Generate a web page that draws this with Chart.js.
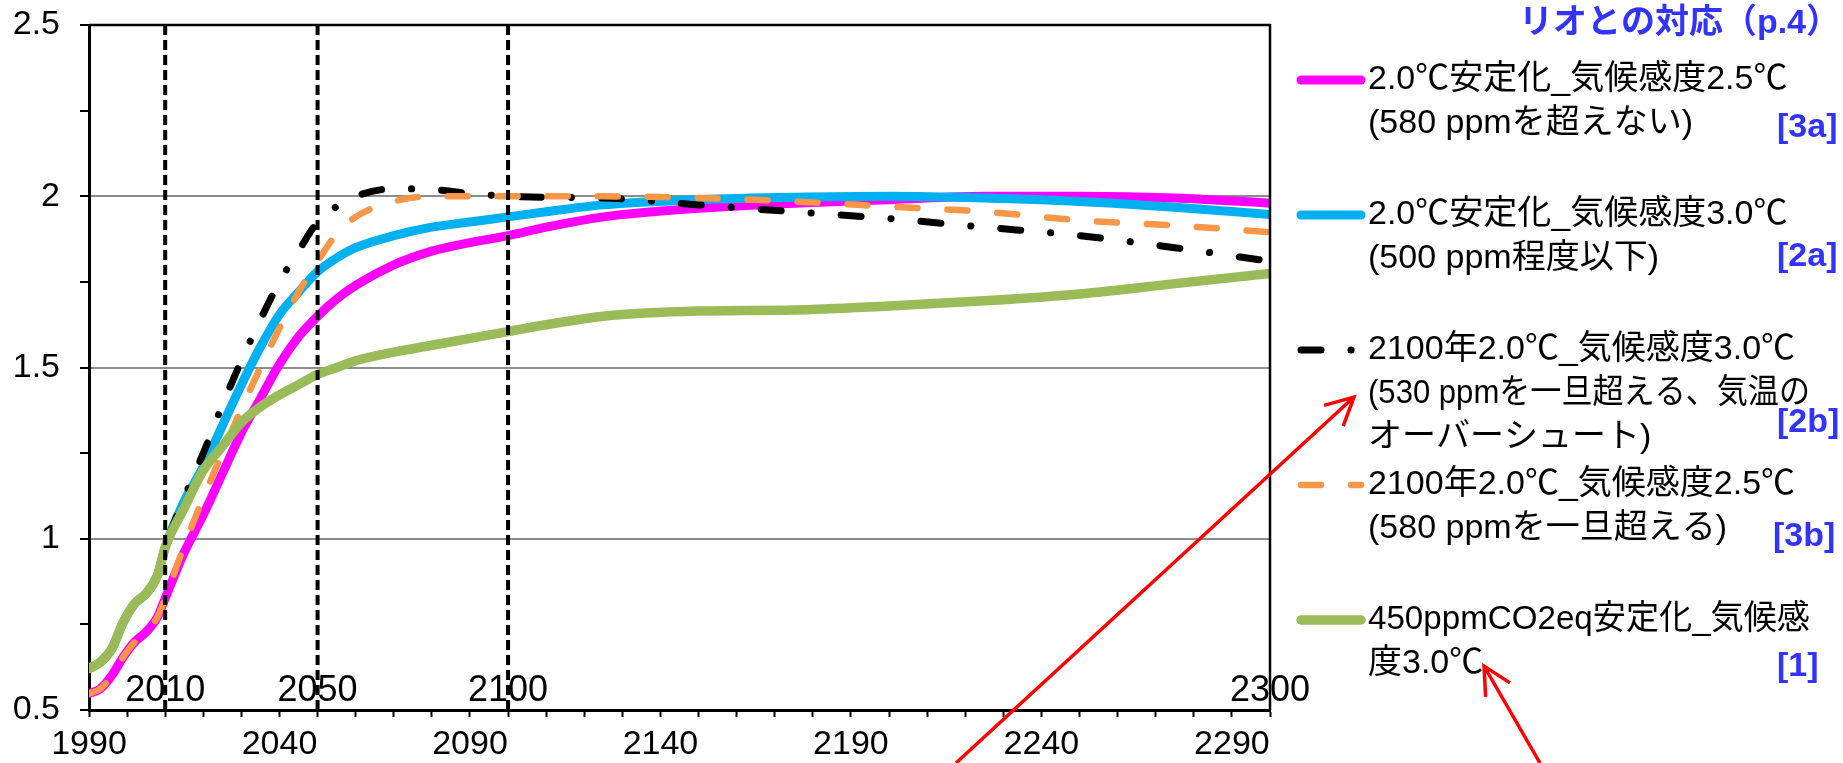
<!DOCTYPE html>
<html>
<head>
<meta charset="utf-8">
<title>気温上昇シナリオ</title>
<script src="https://cdn.jsdelivr.net/npm/chart.js@4.4.1/dist/chart.umd.min.js"></script>
<style>
  html, body { margin: 0; padding: 0; background: #fff; }
  #wrap { position: relative; width: 1843px; height: 763px; }
</style>
</head>
<body>
<div id="wrap"><canvas id="tempChart"></canvas></div>
<script>
// years of the sampled points
var years = [1990, 1993, 1996, 1999, 2002, 2005, 2008, 2010, 2015, 2020, 2025, 2030, 2035, 2040, 2045,
  2050, 2055, 2060, 2070, 2080, 2090, 2100, 2110, 2125, 2150, 2175, 2200, 2225, 2250, 2275, 2300];

// temperature rise (℃) per scenario
var stab20cs25 = [0.548, 0.562, 0.601, 0.655, 0.699, 0.728, 0.772, 0.826, 0.96, 1.07, 1.19, 1.31, 1.41, 1.51, 1.59,
  1.65, 1.70, 1.74, 1.80, 1.84, 1.865, 1.885, 1.91, 1.94, 1.965, 1.98, 1.99, 2.0, 2.0, 1.995, 1.98];
var stab20cs30 = [0.621, 0.640, 0.679, 0.757, 0.811, 0.840, 0.894, 0.975, 1.11, 1.21, 1.33, 1.45, 1.56, 1.655, 1.72,
  1.78, 1.82, 1.85, 1.885, 1.91, 1.925, 1.94, 1.955, 1.975, 1.99, 1.997, 2.0, 1.995, 1.985, 1.968, 1.947];
var y2100cs30 = [0.621, 0.640, 0.679, 0.757, 0.811, 0.840, 0.894, 0.975, 1.12, 1.25, 1.39, 1.52, 1.64, 1.75, 1.84,
  1.925, 1.97, 2.0, 2.022, 2.02, 2.008, 2.0, 1.997, 1.995, 1.975, 1.955, 1.935, 1.91, 1.885, 1.85, 1.81];
var y2100cs25 = [0.548, 0.562, 0.601, 0.655, 0.699, 0.728, 0.772, 0.826, 0.98, 1.12, 1.25, 1.38, 1.50, 1.615, 1.72,
  1.81, 1.89, 1.94, 1.985, 2.0, 2.0, 2.0, 2.0, 2.0, 1.995, 1.985, 1.97, 1.955, 1.93, 1.915, 1.895];
var ppm450cs30 = [0.621, 0.640, 0.679, 0.757, 0.811, 0.840, 0.894, 0.975, 1.09, 1.20, 1.27, 1.34, 1.385, 1.42, 1.45,
  1.48, 1.50, 1.52, 1.545, 1.565, 1.585, 1.605, 1.625, 1.65, 1.665, 1.668, 1.68, 1.695, 1.715, 1.745, 1.775];

var seriesLabels = [
  ['2.0℃安定化_気候感度2.5℃', '(580 ppmを超えない)'],
  ['2.0℃安定化_気候感度3.0℃', '(500 ppm程度以下)'],
  ['2100年2.0℃_気候感度3.0℃', '(530 ppmを一旦超える、気温の', 'オーバーシュート)'],
  ['2100年2.0℃_気候感度2.5℃', '(580 ppmを一旦超える)'],
  ['450ppmCO2eq安定化_気候感', '度3.0℃']
];
var seriesTags = ['[3a]', '[2a]', '[2b]', '[3b]', '[1]'];
var legendTitle = 'リオとの対応（p.4）';

// vertical reference years and their labels
var markerYears = [2010, 2050, 2100];
var markerLabels = [2010, 2050, 2100, 2300];

var FONT = '"Liberation Sans", Arial, "Noto Sans CJK JP", sans-serif';
Chart.defaults.font.family = FONT;
Chart.defaults.color = '#000';

function pts(vals) {
  return years.map(function (yr, i) { return { x: yr, y: vals[i] }; });
}

var datasets = [
  { label: seriesLabels[0].join(''), data: pts(stab20cs25), borderColor: '#FF00FF', borderWidth: 9, order: 5 },
  { label: seriesLabels[1].join(''), data: pts(stab20cs30), borderColor: '#00B0F0', borderWidth: 9, order: 4 },
  { label: seriesLabels[2].join(''), data: pts(y2100cs30), borderColor: '#000000', borderWidth: 7,
    borderDash: [20, 30, 0.1, 30], order: 3 },
  { label: seriesLabels[3].join(''), data: pts(y2100cs25), borderColor: '#F79646', borderWidth: 6.5,
    borderDash: [20, 30], order: 2 },
  { label: seriesLabels[4].join(''), data: pts(ppm450cs30), borderColor: '#9BBB59', borderWidth: 9.5, order: 1 }
];
markerYears.forEach(function (yr) {
  datasets.push({
    label: 'marker' + yr, data: [{ x: yr, y: 0.5 }, { x: yr, y: 2.5 }],
    borderColor: '#000', borderWidth: 4, borderDash: [10, 5], borderCapStyle: 'butt',
    cubicInterpolationMode: 'default', tension: 0, order: 0
  });
});

var decorations = {
  id: 'decorations',
  afterDraw: function (chart) {
    var ctx = chart.ctx, a = chart.chartArea;
    var xs = chart.scales.x, ys = chart.scales.y;
    ctx.save();

    // frame top and right
    ctx.strokeStyle = '#000';
    ctx.lineWidth = 2.5;
    ctx.beginPath();
    ctx.moveTo(a.left, a.top);
    ctx.lineTo(a.right, a.top);
    ctx.lineTo(a.right, a.bottom);
    ctx.stroke();

    // year labels at the reference lines
    ctx.fillStyle = '#000';
    ctx.font = '36px ' + FONT;
    ctx.textAlign = 'center';
    ctx.textBaseline = 'middle';
    markerLabels.forEach(function (yr) {
      ctx.fillText(String(yr), xs.getPixelForValue(yr), ys.getPixelForValue(0.5) - 19);
    });

    // legend
    var firstY = 80, stepY = 135, lineH = 44;
    var tagY = [128, 257, 423, 537, 667];
    for (var i = 0; i < seriesLabels.length; i++) {
      var ds = chart.data.datasets[i];
      var y0 = firstY + i * stepY;
      ctx.save();
      ctx.strokeStyle = ds.borderColor;
      ctx.lineWidth = ds.borderWidth;
      ctx.lineCap = 'round';
      ctx.setLineDash(ds.borderDash || []);
      ctx.beginPath();
      ctx.moveTo(1301, y0);
      ctx.lineTo(1361, y0);
      ctx.stroke();
      ctx.restore();

      ctx.font = '34px ' + FONT;
      ctx.textAlign = 'left';
      ctx.fillStyle = '#000';
      seriesLabels[i].forEach(function (t, k) {
        ctx.fillText(t, 1368, y0 + k * lineH, 442);
      });
      ctx.font = 'bold 34px ' + FONT;
      ctx.fillStyle = '#3333FF';
      ctx.fillText(seriesTags[i], i === 3 ? 1773 : 1777, tagY[i]);
    }
    ctx.font = 'bold 34px ' + FONT;
    ctx.fillStyle = '#3333FF';
    ctx.textAlign = 'right';
    ctx.fillText(legendTitle, 1840, 24);

    // red arrows pointing into the legend
    function arrow(x0, y0, x1, y1) {
      var ang = Math.atan2(y0 - y1, x0 - x1), len = 31, spread = 27 * Math.PI / 180;
      ctx.beginPath();
      ctx.moveTo(x0, y0);
      ctx.lineTo(x1, y1);
      ctx.moveTo(x1 + len * Math.cos(ang + spread), y1 + len * Math.sin(ang + spread));
      ctx.lineTo(x1, y1);
      ctx.lineTo(x1 + len * Math.cos(ang - spread), y1 + len * Math.sin(ang - spread));
      ctx.stroke();
    }
    ctx.strokeStyle = '#FF0000';
    ctx.lineWidth = 3.5;
    ctx.lineCap = 'butt';
    arrow(956, 763, 1354, 397);
    arrow(1540, 763, 1484, 666);

    ctx.restore();
  }
};

new Chart(document.getElementById('tempChart'), {
  type: 'line',
  data: { datasets: datasets },
  options: {
    responsive: true,
    maintainAspectRatio: false,
    animation: false,
    layout: { padding: { top: 19, right: 573, left: 0, bottom: 0 } },
    elements: {
      point: { radius: 0, hoverRadius: 0 },
      line: { cubicInterpolationMode: 'monotone', borderCapStyle: 'round', borderJoinStyle: 'round', fill: false }
    },
    plugins: { legend: { display: false }, tooltip: { enabled: false } },
    scales: {
      x: {
        type: 'linear', min: 1990, max: 2300,
        afterFit: function (s) { s.height = 53; },
        border: { color: '#000', width: 3 },
        grid: { drawOnChartArea: false, tickLength: 7, tickColor: '#000', tickWidth: 2 },
        ticks: {
          stepSize: 10, autoSkip: false, maxRotation: 0, padding: 7, color: '#000', font: { size: 34 },
          callback: function (v) { return (v - 1990) % 50 === 0 ? String(v) : ''; }
        }
      },
      y: {
        min: 0.5, max: 2.5,
        afterFit: function (s) { s.width = 89; },
        border: { color: '#000', width: 3 },
        grid: {
          color: function (c) {
            return c.tick && Math.round(c.tick.value * 100) % 50 === 0 ? '#8C8C8C' : 'rgba(0,0,0,0)';
          },
          lineWidth: 2, tickLength: 9, tickColor: '#000', tickWidth: 2
        },
        ticks: {
          stepSize: 0.25, autoSkip: false, padding: 20, color: '#000', font: { size: 34, lineHeight: 0.3 },
          callback: function (v) { return Math.round(v * 100) % 50 === 0 ? String(v) : ''; }
        }
      }
    }
  },
  plugins: [decorations]
});
</script>
</body>
</html>
